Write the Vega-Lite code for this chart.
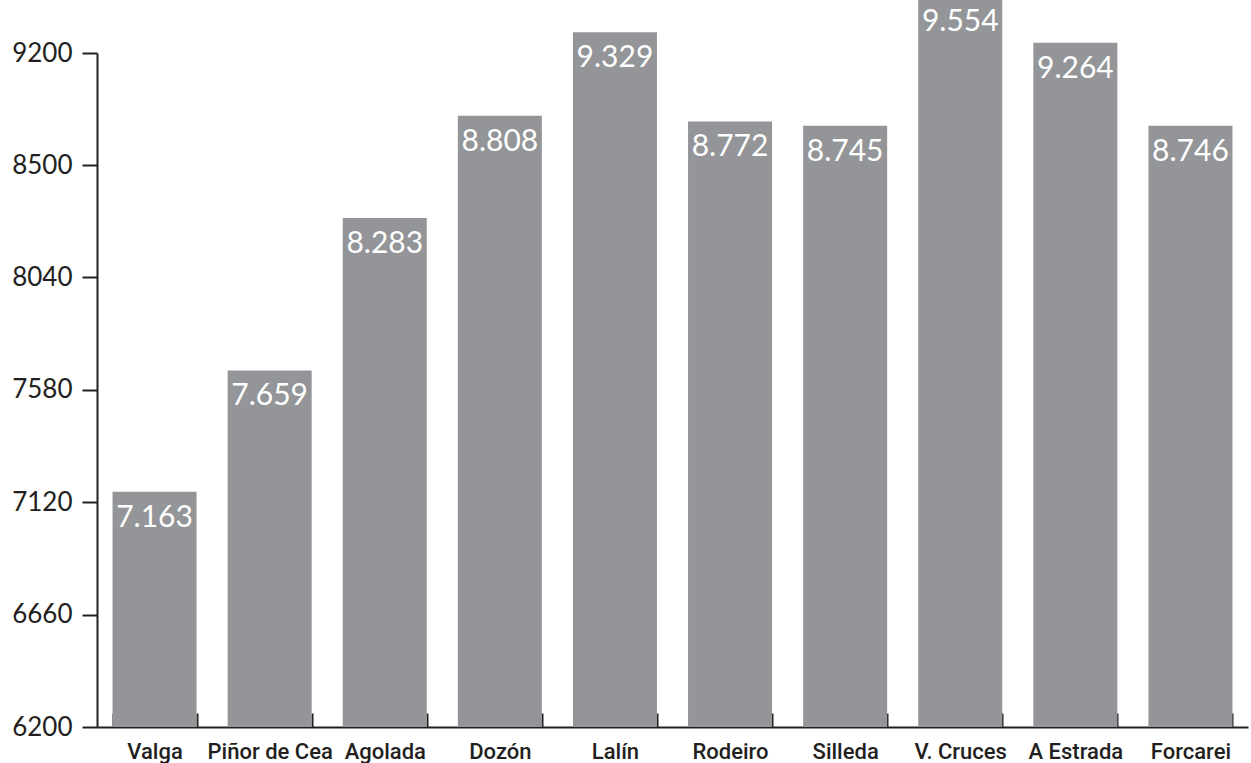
{
  "$schema": "https://vega.github.io/schema/vega-lite/v6.json",
  "width": 1151,
  "height": 674,
  "autosize": {"type": "none"},
  "padding": {"left": 97, "top": 53, "right": 3, "bottom": 36},
  "config": {
    "view": {"stroke": null},
    "locale": {"number": {"decimal": ",", "thousands": ".", "grouping": [3], "currency": ["", " €"]}}
  },
  "data": {
    "values": [
      {"concello": "Valga", "valor": 7163},
      {"concello": "Piñor de Cea", "valor": 7659},
      {"concello": "Agolada", "valor": 8283},
      {"concello": "Dozón", "valor": 8808},
      {"concello": "Lalín", "valor": 9329},
      {"concello": "Rodeiro", "valor": 8772},
      {"concello": "Silleda", "valor": 8745},
      {"concello": "V. Cruces", "valor": 9554},
      {"concello": "A Estrada", "valor": 9264},
      {"concello": "Forcarei", "valor": 8746}
    ]
  },
  "encoding": {
    "x": {
      "field": "concello",
      "type": "nominal",
      "sort": null,
      "scale": {"paddingInner": 0.27, "paddingOuter": 0.135},
      "axis": {
        "title": null,
        "labelAngle": 0,
        "tickBand": "extent",
        "tickSize": -14,
        "tickWidth": 2,
        "tickColor": "#231f20",
        "domainColor": "#231f20",
        "domainWidth": 2,
        "labelFont": "Roboto",
        "labelFontSize": 22,
        "labelFontWeight": 500,
        "labelColor": "#231f20",
        "labelPadding": 28
      }
    },
    "y": {
      "field": "valor",
      "type": "quantitative",
      "scale": {"domain": [6200, 8500, 9200], "range": [674, 112, 0], "nice": false, "zero": false},
      "axis": {
        "title": null,
        "values": [6200, 6660, 7120, 7580, 8040, 8500, 9200],
        "format": "d",
        "grid": false,
        "tickSize": 15,
        "tickWidth": 2,
        "tickColor": "#231f20",
        "domainColor": "#231f20",
        "domainWidth": 2,
        "labelPadding": 10,
        "labelFont": "Lato",
        "labelFontSize": 26,
        "labelColor": "#231f20"
      }
    }
  },
  "layer": [
    {
      "mark": {"type": "bar", "color": "#939598"},
      "encoding": {"y2": {"datum": 6200}}
    },
    {
      "mark": {"type": "text", "color": "white", "baseline": "alphabetic", "dy": 35, "fontSize": 30, "font": "Lato"},
      "encoding": {"text": {"field": "valor", "type": "quantitative", "format": ",d"}}
    }
  ]
}
